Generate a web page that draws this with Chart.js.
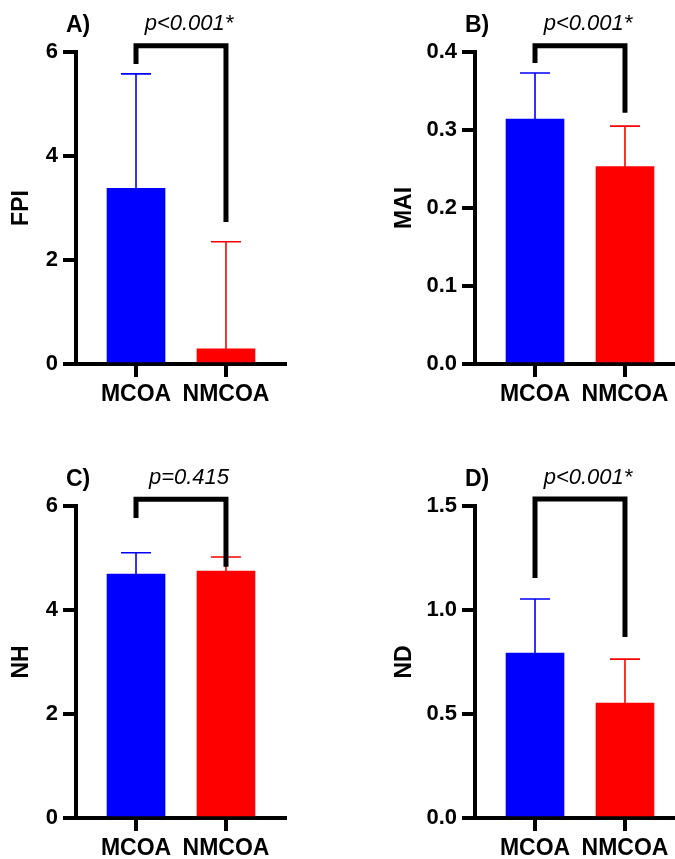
<!DOCTYPE html>
<html>
<head>
  <meta charset="utf-8">
  <title>MCOA vs NMCOA</title>
  <script src="https://cdn.jsdelivr.net/npm/chart.js"></script>
  <style>
    html, body { margin: 0; padding: 0; background: #fff; overflow: hidden; }
    #wrap { position: relative; width: 675px; height: 859px; overflow: hidden; }
    canvas { position: absolute; }
  </style>
</head>
<body>
  <div id="wrap">
    <canvas id="chartA" width="340" height="430" style="left:0;top:0"></canvas>
    <canvas id="chartB" width="360" height="430" style="left:337px;top:0"></canvas>
    <canvas id="chartC" width="340" height="429" style="left:0;top:430px"></canvas>
    <canvas id="chartD" width="360" height="429" style="left:337px;top:430px"></canvas>
  </div>

  <script>
    // groups
    const categories = ['MCOA', 'NMCOA'];
    const barColors = ['#0000ff', '#ff0000'];

    // means and upper error (SD) per panel
    const fpiMean = [3.38, 0.29];
    const fpiSd = [2.20, 2.06];
    const maiMean = [0.314, 0.253];
    const maiSd = [0.059, 0.052];
    const nhMean = [4.69, 4.75];
    const nhSd = [0.41, 0.27];
    const ndMean = [0.793, 0.553];
    const ndSd = [0.26, 0.211];

    // significance brackets: [top, left leg end, right leg end]
    const fpiBracket = [6.12, 5.77, 2.73];
    const maiBracket = [0.408, 0.386, 0.322];
    const nhBracket = [6.13, 5.77, 4.83];
    const ndBracket = [1.534, 1.154, 0.87];

    const pLabels = ['p<0.001*', 'p<0.001*', 'p=0.415', 'p<0.001*'];
    const panelLetters = ['A)', 'B)', 'C)', 'D)'];
    const yTitles = ['FPI', 'MAI', 'NH', 'ND'];

    // y axis ticks
    const yMax = [6, 0.4, 6, 1.5];
    const yStep = [2, 0.1, 2, 0.5];
    const yDecimals = [0, 1, 0, 1];

    Chart.defaults.font.family = "'Liberation Sans', Arial, sans-serif";
    Chart.defaults.color = '#000';

    const FONT = "'Liberation Sans', Arial, sans-serif";

    // error bars, bracket, p value and panel letter
    const annotate = {
      id: 'annotate',
      afterDatasetsDraw(chart, args, o) {
        const ctx = chart.ctx;
        const y = chart.scales.y;
        const area = chart.chartArea;
        const bars = chart.getDatasetMeta(0).data;
        ctx.save();

        // x axis line sticks out left of the y axis
        ctx.strokeStyle = '#000';
        ctx.lineWidth = 4;
        ctx.beginPath();
        ctx.moveTo(area.left - 13, area.bottom);
        ctx.lineTo(area.left, area.bottom);
        ctx.stroke();

        o.sd.forEach((sd, i) => {
          const b = bars[i];
          const top = y.getPixelForValue(o.mean[i] + sd);
          ctx.strokeStyle = barColors[i];
          ctx.lineWidth = 1.6;
          ctx.beginPath();
          ctx.moveTo(b.x, b.y);
          ctx.lineTo(b.x, top);
          ctx.moveTo(b.x - 15, top);
          ctx.lineTo(b.x + 15, top);
          ctx.stroke();
        });

        const [bt, bl, br] = o.bracket;
        const x1 = bars[0].x, x2 = bars[1].x;
        ctx.strokeStyle = '#000';
        ctx.lineWidth = 5;
        ctx.lineJoin = 'miter';
        ctx.beginPath();
        ctx.moveTo(x1, y.getPixelForValue(bl));
        ctx.lineTo(x1, y.getPixelForValue(bt));
        ctx.lineTo(x2, y.getPixelForValue(bt));
        ctx.lineTo(x2, y.getPixelForValue(br));
        ctx.stroke();

        ctx.fillStyle = '#000';
        ctx.textBaseline = 'alphabetic';
        ctx.font = 'italic 22px ' + FONT;
        ctx.textAlign = 'center';
        ctx.fillText(o.p, (x1 + x2) / 2 + 8, area.top - 22);

        ctx.font = 'bold 23px ' + FONT;
        ctx.textAlign = 'left';
        ctx.fillText(o.letter, area.left - 10, area.top - 20);
        ctx.restore();
      }
    };

    function makePanel(id, k, mean, sd, bracket, box) {
      const ctx = document.getElementById(id).getContext('2d');
      const canvas = ctx.canvas;
      new Chart(ctx, {
        type: 'bar',
        data: {
          datasets: [{
            data: mean.map((m, i) => ({ x: i + 1, y: m })),
            backgroundColor: barColors,
            borderWidth: 0,
            barThickness: 58
          }]
        },
        options: {
          responsive: false,
          animation: false,
          layout: {
            padding: {
              left: 0,
              top: box.top,
              right: canvas.width - box.left - 209,
              bottom: canvas.height - box.bottom - 40
            }
          },
          plugins: {
            legend: { display: false },
            tooltip: { enabled: false },
            annotate: { mean: mean, sd: sd, bracket: bracket, p: pLabels[k], letter: panelLetters[k] }
          },
          scales: {
            x: {
              type: 'linear',
              offset: false,
              min: 0.333,
              max: 2.656,
              afterBuildTicks: s => { s.ticks = [{ value: 1 }, { value: 2 }]; },
              afterFit: s => { s.height = 40; },
              ticks: {
                callback: (v, i) => categories[i],
                font: { size: 23, weight: 'bold' },
                padding: 4,
                maxRotation: 0,
                autoSkip: false
              },
              grid: { offset: false, drawOnChartArea: false, tickLength: 13, tickWidth: 4, tickColor: '#000', color: '#000', lineWidth: 4 },
              border: { color: '#000', width: 4 }
            },
            y: {
              min: 0,
              max: yMax[k],
              afterFit: s => { s.width = box.left; },
              ticks: {
                stepSize: yStep[k],
                callback: v => Number(v).toFixed(yDecimals[k]),
                font: { size: 22, weight: 'bold' },
                padding: 5
              },
              grid: { drawOnChartArea: false, tickLength: 13, tickWidth: 4, tickColor: '#000', color: '#000', lineWidth: 4 },
              border: { color: '#000', width: 4 },
              title: {
                display: true,
                text: yTitles[k],
                font: { size: 23, weight: 'bold' },
                padding: { top: box.titlePad, bottom: 0 }
              }
            }
          }
        },
        plugins: [annotate]
      });
    }

    makePanel('chartA', 0, fpiMean, fpiSd, fpiBracket, { left: 76, top: 52, bottom: 364, titlePad: 8 });
    makePanel('chartB', 1, maiMean, maiSd, maiBracket, { left: 138, top: 52, bottom: 364, titlePad: 54 });
    makePanel('chartC', 2, nhMean, nhSd, nhBracket, { left: 76, top: 76, bottom: 388, titlePad: 8 });
    makePanel('chartD', 3, ndMean, ndSd, ndBracket, { left: 138, top: 76, bottom: 388, titlePad: 54 });
  </script>
</body>
</html>
